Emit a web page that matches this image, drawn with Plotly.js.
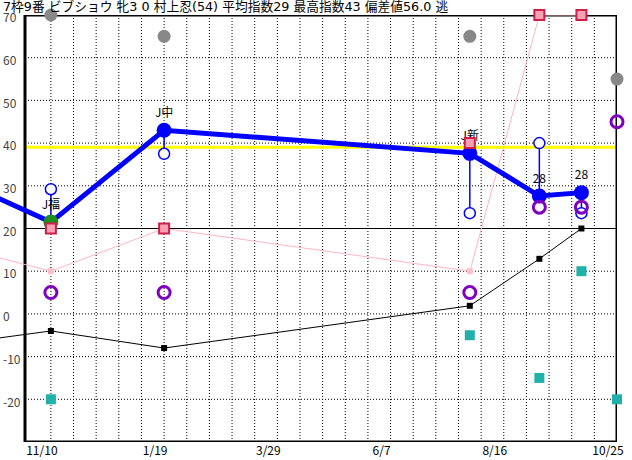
<!DOCTYPE html>
<html>
<head>
<meta charset="utf-8">
<script src="https://cdn.plot.ly/plotly-3.0.1.min.js"></script>
<style>html,body{margin:0;padding:0;background:#fff;}#chart{width:632px;height:460px;}</style>
</head>
<body>
<div id="chart"></div>
<script>
// ---------- data ----------
const chartTitle = '7枠9番 ビブショウ 牝3 0 村上忍(54) 平均指数29 最高指数43 偏差値56.0 逃';
const prevRaceDate = '2023-09-20';
const raceDates = ['2023-11-10', '2024-01-19', '2024-07-26', '2024-09-07', '2024-10-03'];
const nextRaceDate = '2024-10-25';
const courseLabels = ['J福', 'J中', 'J新', '28', '28'];
const mainIndex = [21.5, 43, 37.6, 27.6, 28.4];
const prevMainIndex = 30.3;
const openIndex = [29.2, 37.5, 23.6, 40, 23.6];
const pinkIndex = [10, 20, 10, 70, 70];
const prevPinkIndex = 15;
const blackIndex = [-4, -8, 1.9, 12.9, 20];
const prevBlackIndex = -6.6;
const redSquares = [20, 20, 40, 70, 70];
const purpleCircles = [5, 5, 5, 25, 25];
const nextPurple = 45;
const greyCircles = [70, 65, 65, null, null];
const nextGrey = 55;
const tealSquares = [-20, null, -5, -15, 10];
const nextTeal = -20;
const referenceLine = 39;
const xTickVals = ['2023-11-10', '2024-01-19', '2024-03-29', '2024-06-07', '2024-08-16', '2024-10-25'];
const xTickText = ['11/10', '1/19', '3/29', '6/7', '8/16', '10/25'];
const yTickVals = [70, 60, 50, 40, 30, 20, 10, 0, -10, -20];

// ---------- style ----------
const FONT = '"Noto Sans CJK JP", "DejaVu Sans", sans-serif';
const TITLE_FONT = '"DejaVu Sans", "Noto Sans CJK JP", sans-serif';
const mainMarkerColors = ['#0000ff', '#1e8c1e', '#0000ff', '#0000ff', '#0000ff', '#0000ff'];
const frameStart = '2023-10-25', frameEnd = '2024-10-25';
const xRange = ['2023-10-09 13:00', '2024-10-25'];
const yRange = [-30, 70];

// grid dates every 14 days starting at first race date
function addDays(s, n) {
  const d = new Date(s + 'T00:00:00Z');
  d.setUTCDate(d.getUTCDate() + n);
  return d.toISOString().slice(0, 10);
}
const gridDates = [];
for (let k = 0; k < 25; k++) gridDates.push(addDays('2023-11-10', 14 * k));

const shapes = [];
gridDates.forEach(d => shapes.push({type: 'line', xref: 'x', yref: 'y', x0: d, x1: d, y0: yRange[0], y1: yRange[1],
  line: {color: '#000', width: 1, dash: '1px,2px'}, layer: 'below'}));
yTickVals.filter(v => v !== 70 && v !== 20).forEach(v => shapes.push({type: 'line', xref: 'x', yref: 'y',
  x0: frameStart, x1: frameEnd, y0: v, y1: v, line: {color: '#000', width: 1, dash: '1px,2px'}, layer: 'below'}));
shapes.push({type: 'line', xref: 'x', yref: 'y', x0: frameStart, x1: frameEnd, y0: 20, y1: 20,
  line: {color: '#000', width: 1}, layer: 'below'});
shapes.push({type: 'line', xref: 'x', yref: 'y', x0: frameStart, x1: frameEnd, y0: referenceLine, y1: referenceLine,
  line: {color: '#ffff00', width: 3}, layer: 'below'});
shapes.push({type: 'rect', xref: 'x', yref: 'y', x0: frameStart, x1: frameEnd, y0: yRange[0], y1: yRange[1],
  line: {color: '#000', width: 3}, layer: 'below'});

// vertical range lines between open circle and main index
const vx = [], vy = [];
raceDates.forEach((d, i) => { vx.push(d, d, null); vy.push(mainIndex[i], openIndex[i], null); });

const traces = [
  {x: [prevRaceDate].concat(raceDates), y: [prevPinkIndex].concat(pinkIndex), mode: 'lines+markers',
   line: {color: '#ffb6c1', width: 1}, marker: {symbol: 'square', size: 6, color: '#ffc0cb'}, cliponaxis: false},
  {x: [prevRaceDate].concat(raceDates), y: [prevBlackIndex].concat(blackIndex), mode: 'lines+markers',
   line: {color: '#000', width: 1}, marker: {symbol: 'square', size: 6, color: '#000'}, cliponaxis: false},
  {x: raceDates.concat([nextRaceDate]), y: tealSquares.concat([nextTeal]), mode: 'markers',
   marker: {symbol: 'square', size: 10, color: '#20b2aa'}, cliponaxis: false},
  {x: vx, y: vy, mode: 'lines', line: {color: '#0000ff', width: 1.5}},
  {x: raceDates, y: openIndex, mode: 'markers',
   marker: {symbol: 'circle', size: 11, color: '#ffffff', line: {color: '#0000ff', width: 1.5}}, cliponaxis: false},
  {x: [prevRaceDate].concat(raceDates), y: [prevMainIndex].concat(mainIndex), mode: 'lines+markers+text',
   text: [''].concat(courseLabels), textposition: 'top center', textfont: {family: FONT, size: 12, color: '#000'},
   line: {color: '#0000ff', width: 5}, marker: {size: 15, color: mainMarkerColors}, cliponaxis: false},
  {x: raceDates.concat([nextRaceDate]), y: purpleCircles.concat([nextPurple]), mode: 'markers',
   marker: {symbol: 'circle', size: 12, color: 'rgba(0,0,0,0)', line: {color: '#8000c0', width: 3}}, cliponaxis: false},
  {x: raceDates, y: redSquares, mode: 'markers',
   marker: {symbol: 'square', size: 10, color: '#f7a1b5', line: {color: '#cc1f4a', width: 2}}, cliponaxis: false},
  {x: raceDates.concat([nextRaceDate]), y: greyCircles.concat([nextGrey]), mode: 'markers',
   marker: {symbol: 'circle', size: 13, color: '#888888'}, cliponaxis: false}
];

const layout = {
  width: 632, height: 460,
  margin: {l: 0, r: 15, t: 15, b: 18},
  paper_bgcolor: '#fff', plot_bgcolor: '#fff',
  showlegend: false, hovermode: false,
  font: {family: FONT, size: 12, color: '#000'},
  annotations: [{text: chartTitle, xref: 'paper', yref: 'paper', x: 2 / 617, y: 1 + 15 / 427,
    xanchor: 'left', yanchor: 'top', yshift: 2, showarrow: false, borderpad: 0,
    font: {family: TITLE_FONT, size: 12.75, color: '#000'}}],
  xaxis: {type: 'date', range: xRange, tickvals: xTickVals, ticktext: xTickText, showgrid: false, zeroline: false,
          showline: false, ticks: '', ticklabelshift: -9, tickfont: {family: FONT, size: 12}},
  yaxis: {range: yRange, tickvals: yTickVals, ticktext: yTickVals.map(String), showgrid: false, zeroline: false,
          showline: false, ticks: '', ticklabelposition: 'inside', ticklabeloverflow: 'allow', ticklabelshift: 3,
          tickfont: {family: FONT, size: 12}},
  shapes: shapes
};

Plotly.newPlot('chart', traces, layout, {staticPlot: true, displayModeBar: false});
</script>
</body>
</html>
